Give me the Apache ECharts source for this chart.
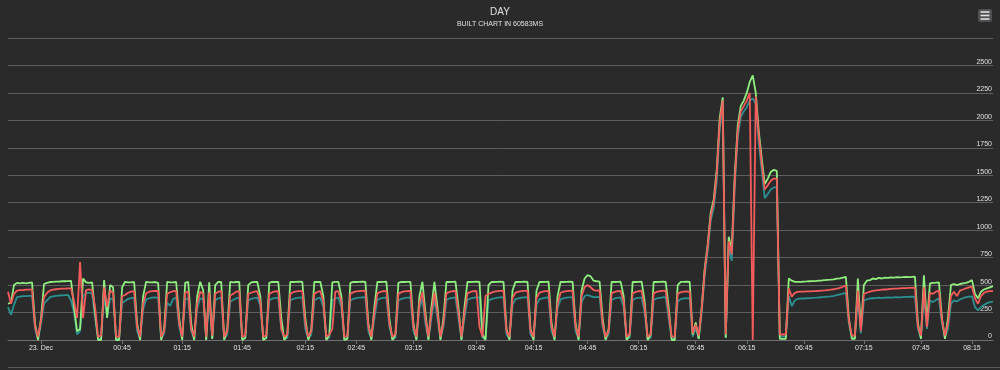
<!DOCTYPE html>
<html><head><meta charset="utf-8">
<script src="https://cdn.jsdelivr.net/npm/echarts@6/dist/echarts.min.js"></script>
<style>html,body{margin:0;padding:0;background:#2a2a2b}#c{width:1000px;height:370px}</style>
</head><body><div id="c"></div>
<script>
const tickIndex = [11, 38, 58, 78, 99, 116, 135, 156, 175, 193, 210, 229, 246, 265, 285, 304, 321];
const tickLabels = ['23. Dec','00:45','01:15','01:45','02:15','02:45','03:15','03:45','04:15','04:45','05:15','05:45','06:15','06:45','07:15','07:45','08:15'];
const yTicks = [0,250,500,750,1000,1250,1500,1750,2000,2250,2500];

const green = [
330,340,500,520,515,520,515,520,525,150,
0,200,510,520,528,530,532,532,535,535,
536,538,300,80,100,560,525,520,525,250,
0,0,545,200,500,480,0,0,480,530,
525,525,528,150,0,400,530,525,525,528,
520,0,100,530,525,525,528,200,0,520,
530,150,0,400,530,450,0,525,10,500,
530,528,0,100,530,525,528,530,0,20,
500,525,528,530,400,0,20,520,530,528,
530,200,0,50,530,528,530,532,530,200,
0,100,530,528,530,400,0,50,525,530,
530,400,0,10,520,530,528,530,532,530,
150,0,300,530,528,530,532,200,0,50,
520,530,528,530,530,150,0,400,530,250,
0,300,530,300,0,200,530,528,530,532,
300,0,300,530,528,530,532,530,50,0,
500,530,528,530,532,530,100,0,450,530,
528,530,532,530,100,0,450,530,528,530,
532,150,0,400,530,528,530,532,530,150,
0,450,560,590,580,540,535,532,200,0,
100,530,528,530,532,400,0,50,530,528,
530,532,350,0,50,530,528,530,532,530,
300,0,0,500,530,530,532,530,50,160,
10,300,650,870,1160,1280,1550,2020,2210,20,
940,820,1500,1950,2130,2180,2250,2350,2410,2250,
1900,1650,1420,1470,1530,1550,1540,10,10,10,
560,540,530,530,530,532,533,535,536,537,
540,542,545,548,550,553,558,562,568,575,
200,10,10,560,100,500,540,545,560,555,
565,560,568,565,570,568,572,570,572,575,
572,575,578,150,10,590,150,515,520,522,
525,200,10,200,500,510,500,510,515,520,
530,545,420,380,440,460,470,480,490
];

const red = [
440,330,420,450,455,455,458,458,460,120,
30,180,390,430,450,458,462,465,467,468,
470,470,350,200,710,200,455,460,455,300,
30,40,480,300,450,430,30,30,400,410,
430,440,445,120,30,330,425,440,445,448,
445,30,80,420,435,445,448,150,30,430,
440,100,30,330,440,420,30,435,40,420,
440,445,30,80,405,420,440,445,30,40,
420,430,440,445,350,30,40,420,435,442,
445,100,30,50,420,435,442,445,448,150,
30,80,420,438,445,350,30,50,100,440,
445,350,30,35,420,435,442,445,448,450,
120,30,250,425,438,444,448,150,30,50,
420,435,442,446,448,120,30,330,435,200,
30,250,430,250,30,150,425,438,444,448,
250,30,250,425,438,444,448,120,30,400,
420,432,440,445,448,450,80,30,380,432,
440,445,448,450,80,30,380,432,440,445,
448,120,30,330,430,440,445,448,450,120,
30,400,480,500,480,455,450,452,150,30,
80,425,438,444,448,350,30,50,425,438,
444,448,300,30,50,425,438,444,448,450,
250,30,30,420,435,440,442,440,60,140,
40,280,630,850,1130,1250,1510,1980,2180,50,
900,780,1450,1900,2080,2130,2180,2250,0,2220,
1860,1600,1370,1410,1450,1470,1470,50,50,50,
470,395,430,438,440,440,442,443,445,446,
448,450,452,455,458,462,468,475,485,495,
180,40,40,450,80,420,430,440,448,452,
455,458,460,462,465,468,468,470,472,472,
474,475,476,120,40,480,120,430,420,440,
450,180,40,150,400,440,400,450,460,470,
480,485,380,330,400,430,440,445,445
];

const teal = [
300,230,320,390,395,400,400,402,402,100,
10,150,330,360,390,398,402,405,406,408,
410,360,250,50,80,400,430,430,425,200,
10,10,400,220,380,370,10,10,340,355,
375,382,385,80,10,280,370,380,385,388,
385,10,60,340,310,375,385,120,10,370,
380,80,10,290,380,370,10,378,15,360,
380,385,10,50,350,365,380,385,10,15,
360,375,382,385,320,10,15,360,378,382,
385,100,10,20,360,375,382,385,388,100,
10,50,360,378,385,300,10,20,360,380,
385,300,10,12,360,375,382,385,388,390,
80,10,200,365,378,384,388,120,10,20,
360,375,382,386,388,80,10,290,375,150,
10,200,370,200,10,120,365,378,384,388,
200,10,200,365,378,384,388,388,20,10,
360,372,380,385,388,390,50,10,320,372,
380,385,388,390,50,10,320,372,380,385,
388,80,10,290,370,380,385,388,390,80,
10,340,400,410,400,390,390,392,120,10,
50,365,378,384,388,300,10,20,365,378,
384,388,250,10,20,365,378,384,388,390,
200,10,10,350,372,378,380,380,30,110,
15,250,590,810,1090,1200,1450,1920,2120,20,
850,720,1400,1850,2030,2080,2120,2180,2200,2150,
1800,1540,1290,1330,1370,1390,1390,30,30,30,
400,310,360,375,378,378,380,382,384,385,
387,390,392,395,398,402,408,415,422,428,
150,20,20,380,60,360,370,378,380,382,
385,382,385,388,386,388,390,388,390,392,
392,394,395,100,20,400,100,360,345,365,
380,150,20,100,330,360,350,370,380,390,
395,398,300,270,300,320,335,345,350
];

const categories = green.map((_, i) => String(i));
const FONT = '"Liberation Sans", Arial, sans-serif';
const isTick = (idx) => tickIndex.indexOf(idx) >= 0;

const chart = echarts.init(document.getElementById('c'), null, {renderer: 'canvas'});
chart.setOption({
  backgroundColor: '#2a2a2b',
  animation: false,
  title: {
    text: 'DAY',
    subtext: 'BUILT CHART IN 60583MS',
    left: 'center',
    top: 7,
    padding: 0,
    itemGap: 4,
    textStyle: {color: '#E0E0E3', fontSize: 10, fontWeight: 'normal', fontFamily: FONT},
    subtextStyle: {color: '#E0E0E3', fontSize: 7, fontFamily: FONT}
  },
  grid: {left: 8, right: 7, top: 38, bottom: 30, containLabel: false},
  xAxis: {
    type: 'category',
    data: categories,
    boundaryGap: false,
    axisLine: {show: true, lineStyle: {color: '#707073', width: 1}},
    axisTick: {show: true, interval: (i) => isTick(i), length: 4, lineStyle: {color: '#707073'}},
    axisLabel: {
      interval: (i) => isTick(i),
      formatter: (v) => { const k = tickIndex.indexOf(Number(v)); return k >= 0 ? tickLabels[k] : ''; },
      color: '#E0E0E3', fontSize: 7, fontFamily: FONT, margin: 5,
      hideOverlap: false
    },
    splitLine: {show: false}
  },
  yAxis: {
    type: 'value',
    position: 'right',
    min: 0, max: 2750, interval: 250,
    axisLine: {show: false},
    axisTick: {show: false},
    splitLine: {show: true, lineStyle: {color: '#5f5f62', width: 1}},
    axisLabel: {
      inside: true, margin: 1,
      formatter: (v) => yTicks.indexOf(v) >= 0 ? String(v) : '',
      color: '#E0E0E3', fontSize: 7, fontFamily: FONT,
      verticalAlign: 'bottom', lineHeight: 7, align: 'right'
    }
  },
  series: [
    {name: 'teal', type: 'line', data: teal, showSymbol: false, symbol: 'none', lineStyle: {color: '#2b908f', width: 1.8}, itemStyle: {color: '#2b908f'}},
    {name: 'green', type: 'line', data: green, showSymbol: false, symbol: 'none', lineStyle: {color: '#90ee7e', width: 1.8}, itemStyle: {color: '#90ee7e'}},
    {name: 'red', type: 'line', data: red, showSymbol: false, symbol: 'none', lineStyle: {color: '#f45b5b', width: 1.8}, itemStyle: {color: '#f45b5b'}}
  ],
  graphic: [
    {type: 'rect', shape: {x: 978, y: 9, width: 14, height: 13, r: 2}, style: {fill: '#505053'}},
    {type: 'line', shape: {x1: 980.5, y1: 12, x2: 989.5, y2: 12}, style: {stroke: '#E0E0E3', lineWidth: 1.6}},
    {type: 'line', shape: {x1: 980.5, y1: 15.5, x2: 989.5, y2: 15.5}, style: {stroke: '#E0E0E3', lineWidth: 1.6}},
    {type: 'line', shape: {x1: 980.5, y1: 19, x2: 989.5, y2: 19}, style: {stroke: '#E0E0E3', lineWidth: 1.6}},
    {type: 'line', shape: {x1: 8, y1: 367.5, x2: 1000, y2: 367.5}, style: {stroke: '#5a5a5c', lineWidth: 1}}
  ]
});
</script>
</body></html>
